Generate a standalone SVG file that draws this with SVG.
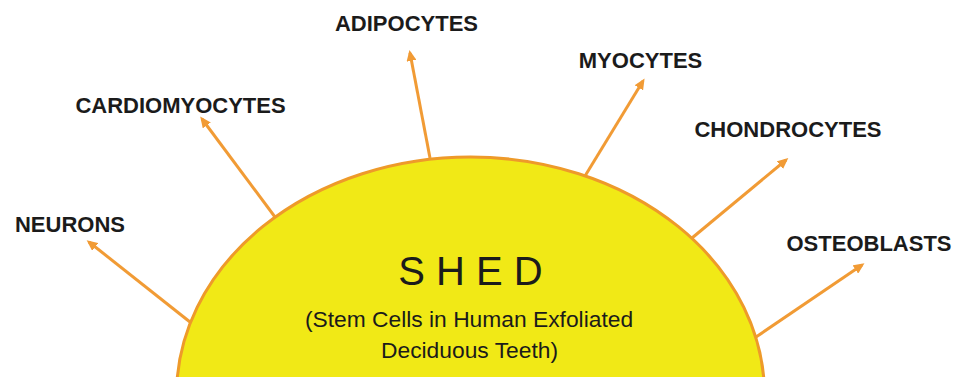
<svg xmlns="http://www.w3.org/2000/svg" width="953" height="377" viewBox="0 0 953 377">
  <defs>
    <style>
      .conn { stroke: #F19B35; stroke-width: 3; fill: none; marker-end: url(#arrow); }
      .label { font-family: "Liberation Sans", Arial, sans-serif; font-weight: bold; font-size: 22px; fill: #1b1b1b; text-anchor: middle; }
      .center { font-family: "Liberation Sans", Arial, sans-serif; fill: #1b1b1b; text-anchor: middle; }
    </style>
    <marker id="arrow" markerUnits="userSpaceOnUse" markerWidth="12" markerHeight="10" refX="8" refY="5" orient="auto">
      <path d="M0,0 L11,5 L0,10 z" fill="#F19B35"/>
    </marker>
  </defs>
  <rect width="953" height="377" fill="#ffffff"/>
  <g id="connectors">
    <line class="conn" x1="190" y1="322" x2="89" y2="242"/>
    <line class="conn" x1="275" y1="217" x2="202" y2="119"/>
    <line class="conn" x1="430" y1="158" x2="410" y2="53"/>
    <line class="conn" x1="585" y1="176" x2="643" y2="81"/>
    <line class="conn" x1="692" y1="238" x2="786" y2="160"/>
    <line class="conn" x1="756" y1="337" x2="862" y2="265"/>
  </g>
  <g id="shed">
    <ellipse cx="470.5" cy="395" rx="294" ry="238" fill="#F1E916" stroke="#EE9A2A" stroke-width="3"/>
    <text class="center" x="470.5" y="285" font-size="40">S H E D</text>
    <text class="center" x="469" y="327" font-size="22.8">(Stem Cells in Human Exfoliated</text>
    <text class="center" x="469.5" y="358" font-size="22.8">Deciduous Teeth)</text>
  </g>
  <g id="neurons"><text class="label" x="70" y="232">NEURONS</text></g>
  <g id="cardiomyocytes"><text class="label" x="180.5" y="113">CARDIOMYOCYTES</text></g>
  <g id="adipocytes"><text class="label" x="406.5" y="31">ADIPOCYTES</text></g>
  <g id="myocytes"><text class="label" x="640.5" y="68">MYOCYTES</text></g>
  <g id="chondrocytes"><text class="label" x="788" y="137">CHONDROCYTES</text></g>
  <g id="osteoblasts"><text class="label" x="869" y="251">OSTEOBLASTS</text></g>
</svg>
